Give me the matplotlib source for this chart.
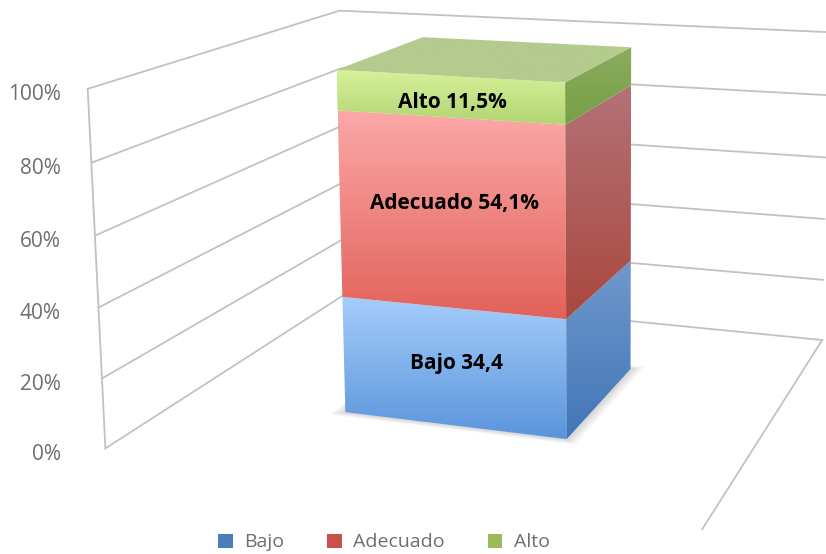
import numpy as np
import matplotlib.pyplot as plt
import matplotlib.colors as mcolors
from matplotlib.patches import Polygon, Patch

categories = ["Bajo", "Adecuado", "Alto"]
values = [34.4, 54.1, 11.5]
bar_labels = ["Bajo 34,4", "Adecuado 54,1%", "Alto 11,5%"]
ticks = [0, 20, 40, 60, 80, 100]
tick_labels = ["0%", "20%", "40%", "60%", "80%", "100%"]

# (light end, dark end) for the front and side of every stack piece
front_colors = [("#a5cdfb", "#5a95dc"), ("#fca8a8", "#e2625a"), ("#d6f19a", "#b2d472")]
side_colors = [("#7098cc", "#4276b8"), ("#b47276", "#a9483f"), ("#8aac5e", "#789f48")]
top_color = "#b4cb8e"
legend_colors = ["#4a7ebb", "#c8504d", "#9bbb59"]
grid_color = "#c2c2c2"
text_grey = "#6e6e6e"

W, H = 826, 554
bar_w = 0.4  # gap width 150 %
label_nudge = [-3, -10, 6]  # pixels, data labels sit a bit off centre in the original

# corners of the chart box (x across, y into the page, z as share of 100 %)
# and where they sit in the picture; a pinhole camera is fitted through them
box_world = np.array([
    (0, 0, 1), (0, 0, 0.8), (0, 0, 0.6), (0, 0, 0.4), (0, 0, 0.2), (0, 0, 0),
    (0, 1, 1), (0, 1, 0), (1, 1, 1), (1, 1, 0), (1, 0, 0), (1, 0, 1),
], float)
box_page = np.array([
    (88, 90), (91, 163), (95, 237), (98, 308), (102, 378), (105, 448),
    (340, 10), (347, 292), (828, 32), (822, 342), (703, 528), (706, 126),
], float)


def fit_camera(world, page):
    s = 400.0
    pg = (page - [W / 2, H / 2]) / s
    rows = []
    for (X, Y, Z), (u, v) in zip(world, pg):
        rows.append([X, Y, Z, 1, 0, 0, 0, 0, -u * X, -u * Y, -u * Z, -u])
        rows.append([0, 0, 0, 0, X, Y, Z, 1, -v * X, -v * Y, -v * Z, -v])
    _, _, vt = np.linalg.svd(np.array(rows))
    T = np.array([[s, 0, W / 2], [0, s, H / 2], [0, 0, 1]])
    return T @ vt[-1].reshape(3, 4)


cam = fit_camera(box_world, box_page)


def proj(x, y, z):
    p = cam @ np.array([x, y, z / 100.0, 1.0])
    return p[0] / p[2], p[1] / p[2]


def face(ax, corners, c_top, c_bottom, zorder):
    pts = np.array([proj(*c) for c in corners])
    patch = Polygon(pts, closed=True, facecolor="none", edgecolor="none", zorder=zorder)
    ax.add_patch(patch)
    t = np.linspace(0, 1, 64)[:, None, None]
    a = np.array(mcolors.to_rgb(c_top))
    b = np.array(mcolors.to_rgb(c_bottom))
    img = a * (1 - t) + b * t
    (lx, ty), (rx, by) = pts.min(0), pts.max(0)
    im = ax.imshow(img, extent=(lx, rx, by, ty), aspect="auto",
                   interpolation="bilinear", zorder=zorder)
    im.set_clip_path(patch)


plt.rcParams["font.family"] = ["Open Sans", "DejaVu Sans"]
fig = plt.figure(figsize=(W / 100, H / 100), dpi=100)
ax = fig.add_axes([0, 0, 1, 1])

# walls
for z in ticks:
    fx, fy = proj(0, 0, z)
    bx, by = proj(0, 1, z)
    rx, ry = proj(1, 1, z)
    ax.plot([fx, bx, rx], [fy, by, ry], color=grid_color, lw=1.3, zorder=1,
            solid_capstyle="round")
a = proj(0, 0, 0)
b = proj(0, 0, 100)
ax.plot([a[0], b[0]], [a[1], b[1]], color=grid_color, lw=1.3, zorder=1)
a = proj(1, 1, 0)
b = proj(1, 0, 0)
ax.plot([a[0], b[0]], [a[1], b[1]], color=grid_color, lw=1.3, zorder=1)

for z, lab in zip(ticks, tick_labels):
    fx, fy = proj(0, 0, z)
    ax.text(61, fy + 6, lab, ha="right", va="center", fontsize=15, color=text_grey)

# soft shadow on the floor
x0, x1 = 0.5 - bar_w / 2, 0.5 + bar_w / 2
y0, y1 = 0.5 - bar_w / 2, 0.5 + bar_w / 2
for k in range(4):
    g = 0.005 * (k + 1)
    pts = [proj(x0 - g, y0 - g, 0), proj(x1 + g, y0 - g, 0),
           proj(x1 + g, y1 + g, 0), proj(x0 - g, y1 + g, 0)]
    ax.add_patch(Polygon(pts, closed=True, facecolor="#000000", alpha=0.04,
                         edgecolor="none", zorder=2))

# stacked bar
bottom = 0.0
for i, v in enumerate(values):
    top = bottom + v
    face(ax, [(x0, y0, top), (x1, y0, top), (x1, y0, bottom), (x0, y0, bottom)],
         front_colors[i][0], front_colors[i][1], 3)
    face(ax, [(x1, y0, top), (x1, y1, top), (x1, y1, bottom), (x1, y0, bottom)],
         side_colors[i][0], side_colors[i][1], 3)
    lx, ly = proj(0.5, y0, (bottom + top) / 2)
    ax.text(lx + 4, ly + label_nudge[i], bar_labels[i], ha="center", va="center",
            fontsize=15, fontweight="bold", color="black", zorder=5)
    bottom = top
face(ax, [(x0, y1, 100), (x1, y1, 100), (x1, y0, 100), (x0, y0, 100)],
     top_color, top_color, 4)

handles = [Patch(facecolor=c, edgecolor="none") for c in legend_colors]
fig.legend(handles, categories, loc="lower center", bbox_to_anchor=(0.465, -0.027),
           ncol=3, frameon=False, fontsize=14, labelcolor=text_grey,
           handlelength=0.75, handleheight=0.75, handletextpad=0.6, columnspacing=2.2)

ax.set_xlim(0, W)
ax.set_ylim(H, 0)
ax.axis("off")
fig.savefig("out.png", dpi=100)
